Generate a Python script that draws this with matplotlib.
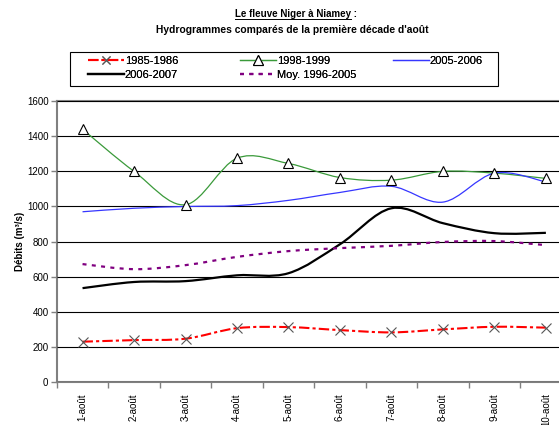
import matplotlib
matplotlib.use("Agg")
import matplotlib.pyplot as plt
from matplotlib.path import Path
from matplotlib.patches import PathPatch, Rectangle
from matplotlib.lines import Line2D
import numpy as np

plt.rcParams['font.family'] = ['Liberation Sans', 'DejaVu Sans']

days = ["1-août", "2-août", "3-août", "4-août", "5-août",
        "6-août", "7-août", "8-août", "9-août", "10-août"]
s_1985 = [230, 239, 247, 307, 313, 296, 283, 300, 315, 310]
s_1998 = [1440, 1200, 1010, 1275, 1245, 1165, 1150, 1200, 1190, 1160]
s_2005 = [970, 990, 1000, 1005, 1035, 1080, 1115, 1025, 1190, 1140]
s_2006 = [535, 570, 575, 608, 620, 785, 990, 905, 848, 850]
s_moy = [672, 643, 666, 713, 746, 763, 776, 798, 803, 780]


def smooth_path(xs, ys):
    # Catmull-Rom style bezier, like Excel's "smoothed line"
    pts = np.column_stack([xs, ys]).astype(float)
    ext = np.vstack([pts[0], pts, pts[-1]])
    verts = [tuple(pts[0])]
    codes = [Path.MOVETO]
    for i in range(len(pts) - 1):
        p0, p1, p2, p3 = ext[i], ext[i + 1], ext[i + 2], ext[i + 3]
        c1 = p1 + (p2 - p0) / 6.0
        c2 = p2 - (p3 - p1) / 6.0
        verts += [tuple(c1), tuple(c2), tuple(p2)]
        codes += [Path.CURVE4] * 3
    return Path(verts, codes)


fig = plt.figure(figsize=(5.59, 4.25), dpi=100)
ax = fig.add_axes([0.1016, 0.101, 0.921, 0.661])

x = np.arange(1, len(days) + 1)

red_ls = (0, (5, 1.5, 1.5, 1.5))
dot_ls = (0, (1.8, 2.4))
series = [
    (s_1985, dict(color='#ff0000', lw=1.5, ls=red_ls), 'x'),
    (s_1998, dict(color='#3a9a3a', lw=0.9, ls='-'), '^'),
    (s_2005, dict(color='#3636ff', lw=0.9, ls='-'), None),
    (s_2006, dict(color='black', lw=1.6, ls='-'), None),
    (s_moy, dict(color='#800080', lw=1.6, ls=dot_ls), None),
]

for vals, st, mk in series:
    p = smooth_path(x, vals)
    ax.add_patch(PathPatch(p, fill=False, edgecolor=st['color'], lw=st['lw'],
                           linestyle=st['ls'], capstyle='butt', zorder=3))
    if mk == 'x':
        ax.plot(x, vals, ls='none', marker='x', ms=7, mew=0.8,
                color='#555555', zorder=4)
    elif mk == '^':
        ax.plot(x, vals, ls='none', marker='^', ms=7.5, mew=0.8,
                mfc='white', mec='black', zorder=4)

ax.set_xlim(0.5, 10.5)
ax.set_ylim(0, 1600)
ax.set_yticks(np.arange(0, 1601, 200))
ax.set_xticks(x)
ax.set_xticklabels(days, rotation=90, fontsize=7)
ax.set_xticks(np.arange(0.5, 11, 1), minor=True)
ax.tick_params(axis='x', which='major', length=0, pad=8)
ax.tick_params(axis='x', which='minor', length=4, color='#808080', width=1)
ax.tick_params(axis='y', length=4, color='#808080', width=1, labelsize=7, pad=2)

ax.yaxis.grid(True, color='black', lw=0.8)
ax.set_axisbelow(False)
for sp in ax.spines.values():
    sp.set_color('#808080')
    sp.set_linewidth(1.5)

ax.set_ylabel("Débits (m³/s)", fontsize=7, fontweight='bold', labelpad=1)

# legend: three columns placed by hand, one frame around them
h = {
    '1985': Line2D([], [], color='#ff0000', lw=1.5, ls=red_ls,
                   marker='x', ms=6, mew=0.8, mec='#555555'),
    '1998': Line2D([], [], color='#3a9a3a', lw=0.9, marker='^', ms=7, mew=0.8,
                   mfc='white', mec='black'),
    '2005': Line2D([], [], color='#3636ff', lw=0.9),
    '2006': Line2D([], [], color='black', lw=1.6),
    'moy': Line2D([], [], color='#800080', lw=1.6, ls=dot_ls),
}
cols = [
    ([h['1985'], h['2006']], ["1985-1986", "2006-2007"], 88),
    ([h['1998'], h['moy']], ["1998-1999", "Moy. 1996-2005"], 240),
    ([h['2005']], ["2005-2006"], 393),
]
for hs, ls_, px in cols:
    lg = fig.legend(hs, ls_, loc='upper left',
                    bbox_to_anchor=(px / 559, 1 - 56 / 425),
                    fontsize=8, frameon=False, handlelength=3.2,
                    handletextpad=0.1, borderpad=0, labelspacing=0.35,
                    numpoints=1, borderaxespad=0)
    fig.add_artist(lg)
fig.add_artist(Rectangle((70 / 559, 1 - 86 / 425), 428 / 559, 34 / 425,
                         transform=fig.transFigure, fill=False,
                         edgecolor='black', lw=0.8))

t1 = fig.text(0.53, 0.966, "Le fleuve Niger à Niamey :", ha='center', va='center',
              fontsize=7, fontweight='bold')
fig.text(0.523, 0.93, "Hydrogrammes comparés de la première décade d'août",
         ha='center', va='center', fontsize=7.4, fontweight='bold')

fig.canvas.draw()
bb = t1.get_window_extent().transformed(fig.transFigure.inverted())
fig.add_artist(Line2D([bb.x0, bb.x1 - 0.012], [bb.y0 + 0.002, bb.y0 + 0.002],
                      color='black', lw=0.7, transform=fig.transFigure))

fig.savefig("out.png", dpi=100)
